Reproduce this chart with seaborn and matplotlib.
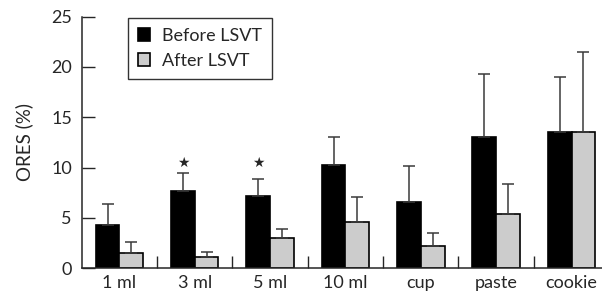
import numpy as np
import pandas as pd
import matplotlib.pyplot as plt
import seaborn as sns

categories = ['1 ml', '3 ml', '5 ml', '10 ml', 'cup', 'paste', 'cookie']
before_mean = [4.3, 7.7, 7.15, 10.3, 6.6, 13.05, 13.55]
before_err = [2.05, 1.75, 1.7, 2.7, 3.55, 6.3, 5.45]
after_mean = [1.5, 1.15, 2.95, 4.6, 2.15, 5.4, 13.55]
after_err = [1.05, 0.5, 0.95, 2.45, 1.3, 3.0, 7.9]
significant = ['3 ml', '5 ml']
groups = ['Before LSVT', 'After LSVT']

df = pd.DataFrame({
    'food': categories * 2,
    'group': [groups[0]] * len(categories) + [groups[1]] * len(categories),
    'ores': before_mean + after_mean,
    'err': before_err + after_err,
})

sns.set_style('ticks')
plt.rcParams['font.family'] = ['Lato', 'DejaVu Sans']

fig = plt.figure(figsize=(6.02, 2.93), dpi=100)
ax = fig.add_axes([0.1357, 0.085, 0.87, 0.858])

sns.barplot(data=df, x='food', y='ores', hue='group', hue_order=groups,
            order=categories, palette=['black', '#cccccc'], errorbar=None,
            width=0.63, edgecolor='black', linewidth=1.2, ax=ax)

# upper-only error bars, positioned from the drawn bars
for container, errs in zip(ax.containers, [before_err, after_err]):
    for patch, e in zip(container.patches, errs):
        xc = patch.get_x() + patch.get_width() / 2
        h = patch.get_height()
        ax.errorbar(xc, h, yerr=[[0], [e]], fmt='none', ecolor='#3a3a3a',
                    elinewidth=1.1, capsize=4.5, capthick=1.1, zorder=1)

# significance stars above "before" bars
for patch, cat in zip(ax.containers[0].patches, categories):
    if cat in significant:
        xc = patch.get_x() + patch.get_width() / 2
        ax.text(xc, 10.5, '\u2605', ha='center', va='center', fontsize=10,
                family=['DejaVu Sans'])

ax.set_ylim(0, 25)
ax.set_xlim(-0.5, 6.45)
ax.set_yticks([0, 5, 10, 15, 20, 25])
ax.set_ylabel('ORES (%)', fontsize=13.5, labelpad=13)
ax.set_xlabel('')
ax.tick_params(axis='y', direction='in', length=9, width=1, labelsize=13, pad=7)
ax.tick_params(axis='x', which='major', length=0, labelsize=13, pad=5)
ax.set_xticks(np.arange(0.5, len(categories) - 1, 1), minor=True)
ax.tick_params(axis='x', which='minor', direction='in', length=9, width=1)
sns.despine(ax=ax)
for s in ['left', 'bottom']:
    ax.spines[s].set_linewidth(1.1)

leg = ax.legend(loc='upper left', bbox_to_anchor=(0.088, 0.995), fontsize=13,
                frameon=True, fancybox=False, edgecolor='black',
                handlelength=0.7, handleheight=0.7, handletextpad=0.65,
                borderpad=0.55, labelspacing=0.5, borderaxespad=0)
leg.get_frame().set_linewidth(1.0)

fig.savefig('out.png', dpi=100)
